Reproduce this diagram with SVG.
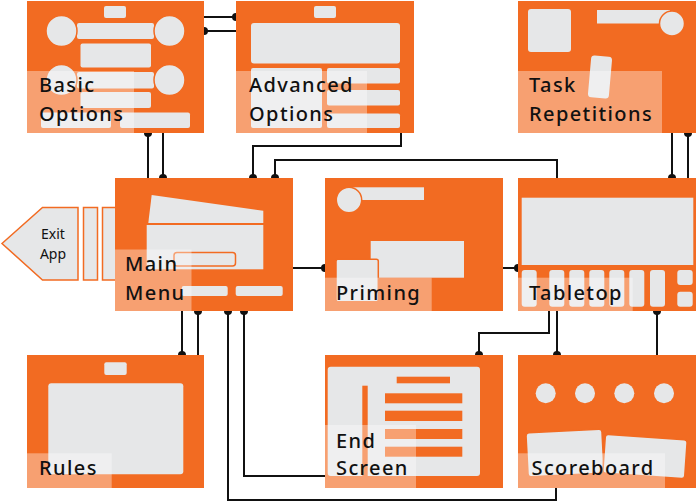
<svg xmlns="http://www.w3.org/2000/svg" width="697" height="502" viewBox="0 0 697 502">
<style>
.box{fill:#F26B22}
.g{fill:#E6E7E8}
.go{fill:#E6E7E8;stroke:#F26B22;stroke-width:1.5}
.ov{fill:#FFFFFF;fill-opacity:0.36}
.o{fill:#F26B22}
.lbl{font-family:"Noto Sans",sans-serif;font-size:20px;font-weight:500;letter-spacing:1.4px;fill:#111}
.sm{font-family:"Noto Sans",sans-serif;font-size:14px;fill:#111;text-anchor:middle}
.ln{fill:none;stroke:#111;stroke-width:2}
.dot{fill:#111}
</style>
<g id="connectors">
<path class="ln" d="M204 17H236M204 31H236"/>
<path class="ln" d="M148 133V178M163 133V178"/>
<path class="ln" d="M401 133V146H253V178"/>
<path class="ln" d="M275 178V160H557V178"/>
<path class="ln" d="M672 133V178M688 133V178"/>
<path class="ln" d="M293 268H325M503 268H518"/>
<path class="ln" d="M182 311V355M198 311V355"/>
<path class="ln" d="M244 311V476H325"/>
<path class="ln" d="M228 311V500H556V488"/>
<path class="ln" d="M549 311V333H479V355"/>
<path class="ln" d="M557 311V355M657 311V355"/>
<circle class="dot" cx="236" cy="17" r="4"/>
<circle class="dot" cx="204" cy="31" r="4"/>
<circle class="dot" cx="148" cy="133" r="4"/>
<circle class="dot" cx="163" cy="178" r="4"/>
<circle class="dot" cx="253" cy="178" r="4"/>
<circle class="dot" cx="275" cy="178" r="4"/>
<circle class="dot" cx="672" cy="178" r="4"/>
<circle class="dot" cx="688" cy="133" r="4"/>
<circle class="dot" cx="325" cy="268" r="4"/>
<circle class="dot" cx="518" cy="268" r="4"/>
<circle class="dot" cx="182" cy="355" r="4"/>
<circle class="dot" cx="198" cy="311" r="4"/>
<circle class="dot" cx="228" cy="311" r="4"/>
<circle class="dot" cx="244" cy="311" r="4"/>
<circle class="dot" cx="479" cy="355" r="4"/>
<circle class="dot" cx="557" cy="355" r="4"/>
<circle class="dot" cx="657" cy="311" r="4"/>
</g>
<g id="exit-app">
<polygon points="2,243.5 42.5,207.5 78,207.5 78,280 42.5,280" fill="#E6E7E8" stroke="#F26B22" stroke-width="1.5"/>
<rect x="83.5" y="207.5" width="14" height="72.5" fill="#E6E7E8" stroke="#F26B22" stroke-width="1.5"/>
<rect x="102.5" y="207.5" width="14" height="72.5" fill="#E6E7E8" stroke="#F26B22" stroke-width="1.5"/>
<text class="sm" x="53" y="239">Exit</text>
<text class="sm" x="53" y="259">App</text>
</g>
<g id="basic-options">
<rect class="box" x="27" y="1" width="177" height="132"/>
<rect class="g" x="104" y="6" width="22" height="12" rx="2"/>
<rect class="g" x="77" y="23" width="77" height="16" rx="2"/>
<circle class="go" cx="61.5" cy="31" r="15.5"/>
<circle class="go" cx="169.5" cy="31" r="15.5"/>
<rect class="g" x="80.5" y="43.5" width="70.5" height="24" rx="2"/>
<rect class="g" x="77" y="72" width="77" height="16.5" rx="2"/>
<circle class="go" cx="61.5" cy="80" r="15.5"/>
<circle class="go" cx="169.5" cy="80" r="15.5"/>
<rect class="g" x="80.5" y="92" width="70.5" height="16" rx="2"/>
<rect class="g" x="41" y="112.5" width="70" height="15.5" rx="2"/>
<rect class="g" x="120" y="112.5" width="70" height="15.5" rx="2"/>
<rect class="ov" x="27" y="71" width="107" height="62"/>
<text class="lbl" x="39" y="92">Basic</text>
<text class="lbl" x="39" y="121">Options</text>
</g>
<g id="advanced-options">
<rect class="box" x="236" y="1" width="178" height="132"/>
<rect class="g" x="314" y="6" width="22" height="12" rx="2"/>
<rect class="g" x="251" y="23" width="149" height="40.5" rx="3"/>
<rect class="g" x="251" y="68" width="71" height="60" rx="2"/>
<rect class="g" x="327" y="68" width="73" height="15.5" rx="2"/>
<rect class="g" x="327" y="90" width="73" height="15.5" rx="2"/>
<rect class="g" x="327" y="113.5" width="73" height="14.5" rx="2"/>
<rect class="ov" x="236" y="71" width="131" height="62"/>
<text class="lbl" x="249" y="92">Advanced</text>
<text class="lbl" x="249" y="121">Options</text>
</g>
<g id="task-repetitions">
<rect class="box" x="518" y="1" width="178" height="132"/>
<rect class="g" x="528" y="9" width="43" height="43" rx="3"/>
<rect class="g" x="597" y="10" width="73" height="13.5"/>
<circle class="go" cx="672" cy="23.5" r="12.5"/>
<rect class="g" x="589.5" y="56" width="21" height="42" rx="3.5" transform="rotate(5 600 77)"/>
<rect class="ov" x="518" y="71" width="144" height="62"/>
<text class="lbl" x="529" y="92">Task</text>
<text class="lbl" x="529" y="121">Repetitions</text>
</g>
<g id="main-menu">
<rect class="box" x="115" y="178" width="178" height="133"/>
<polygon class="g" points="151.7,195 263.3,210.7 263.3,223 148.3,223"/>
<rect class="g" x="146.7" y="225" width="116.6" height="44.3"/>
<rect class="go" x="174" y="252.5" width="61.5" height="13.5" rx="3"/>
<rect class="g" x="181.7" y="286" width="46" height="10" rx="2"/>
<rect class="g" x="235.7" y="286" width="47" height="10" rx="2"/>
<rect class="ov" x="115" y="249.5" width="76.5" height="61.5"/>
<text class="lbl" x="125" y="271">Main</text>
<text class="lbl" x="125" y="299.5">Menu</text>
</g>
<g id="priming">
<rect class="box" x="325" y="178" width="178" height="133"/>
<rect class="g" x="349" y="187.3" width="75" height="12.7"/>
<circle class="go" cx="349" cy="200" r="12.7"/>
<rect class="g" x="370.7" y="241" width="93.3" height="36.7"/>
<rect class="go" x="336" y="259.3" width="42.3" height="42.4" rx="2"/>
<rect class="ov" x="325" y="277.7" width="106.7" height="33.3"/>
<text class="lbl" x="336" y="299.5">Priming</text>
</g>
<g id="tabletop">
<rect class="box" x="518" y="178" width="178" height="133"/>
<rect class="g" x="521.7" y="197.7" width="171.6" height="67.3"/>
<rect class="g" x="521.7" y="270" width="15" height="36.7" rx="3"/>
<rect class="g" x="549.3" y="270" width="15" height="36.7" rx="3"/>
<rect class="g" x="569.3" y="270" width="15" height="36.7" rx="3"/>
<rect class="g" x="589.3" y="270" width="15" height="36.7" rx="3"/>
<rect class="g" x="609.3" y="270" width="15" height="36.7" rx="3"/>
<rect class="g" x="629.3" y="270" width="15" height="36.7" rx="3"/>
<rect class="g" x="650" y="270" width="15" height="36.7" rx="3"/>
<rect class="g" x="677.3" y="270" width="15.4" height="15" rx="3"/>
<rect class="g" x="677.3" y="291.7" width="15.4" height="15" rx="3"/>
<rect class="ov" x="518" y="277.7" width="114.7" height="33.3"/>
<text class="lbl" x="529" y="299.5">Tabletop</text>
</g>
<g id="rules">
<rect class="box" x="27" y="355" width="177" height="133"/>
<rect class="g" x="104.3" y="362.3" width="22.4" height="12.7" rx="2"/>
<rect class="g" x="48.3" y="383.3" width="135" height="91" rx="3"/>
<rect class="ov" x="27" y="453.3" width="84.7" height="34.7"/>
<text class="lbl" x="39" y="475">Rules</text>
</g>
<g id="end-screen">
<rect class="box" x="325" y="355" width="178" height="133"/>
<rect class="g" x="327.7" y="366.7" width="152.3" height="109.3" rx="3"/>
<rect class="o" x="362.3" y="385.7" width="5.4" height="90.3"/>
<rect class="o" x="396.7" y="376.7" width="53.3" height="6.6"/>
<rect class="o" x="385" y="393.3" width="77.3" height="10"/>
<rect class="o" x="385" y="410.7" width="77.3" height="10.3"/>
<rect class="o" x="385" y="429" width="77.3" height="10"/>
<rect class="o" x="385" y="446.7" width="77.3" height="10"/>
<rect class="ov" x="325" y="425" width="91" height="63"/>
<text class="lbl" x="336" y="447.5">End</text>
<text class="lbl" x="336" y="475">Screen</text>
</g>
<g id="scoreboard">
<rect class="box" x="518" y="355" width="178" height="133"/>
<circle class="g" cx="545.7" cy="393.3" r="10"/>
<circle class="g" cx="585" cy="393.3" r="10"/>
<circle class="g" cx="624.3" cy="393.3" r="10"/>
<circle class="g" cx="664" cy="393.3" r="10"/>
<rect class="go" x="527" y="431" width="76" height="44" rx="3" transform="rotate(-3 565 453)"/>
<rect class="go" x="604" y="437" width="82" height="39" rx="3" transform="rotate(4 645 456.5)"/>
<rect class="ov" x="518" y="453.3" width="147" height="34.7"/>
<text class="lbl" x="531.5" y="475">Scoreboard</text>
</g>
</svg>
